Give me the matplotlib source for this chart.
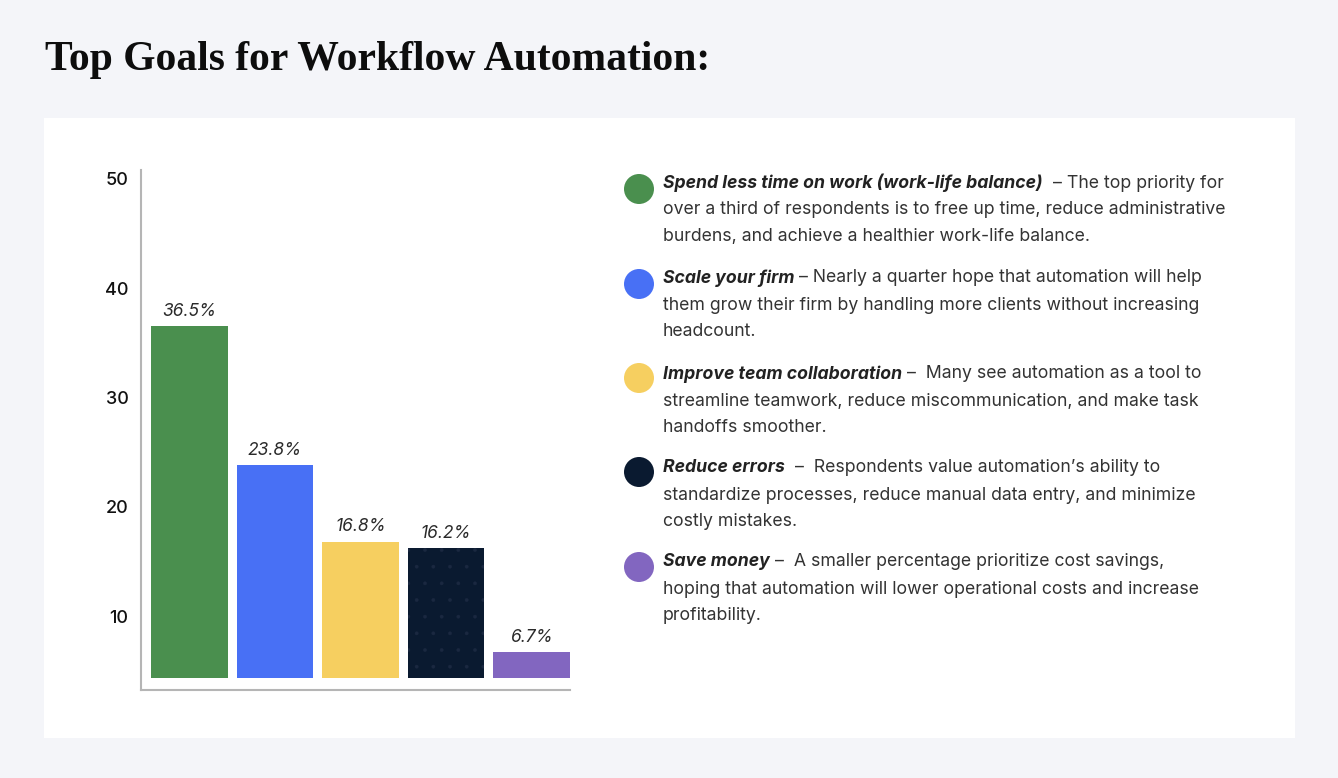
import matplotlib
matplotlib.use("Agg")
import matplotlib.pyplot as plt
from matplotlib.patches import Rectangle, Ellipse

# ---------------- data ----------------
categories = ["Spend less time on work (work-life balance)", "Scale your firm",
              "Improve team collaboration", "Reduce errors", "Save money"]
values = [36.5, 23.8, 16.8, 16.2, 6.7]
value_labels = ["36.5%", "23.8%", "16.8%", "16.2%", "6.7%"]
colors = ["#4a8f4e", "#4870f5", "#f6cf60", "#0a1a30", "#8266c0"]
yticks = [10, 20, 30, 40, 50]
headings = ["Spend less time on work (work-life balance)", "Scale your firm",
            "Improve team collaboration", "Reduce errors", "Save money"]
first_tails = ["  – The top priority for", " – Nearly a quarter hope that automation will help",
               " –  Many see automation as a tool to", "  –  Respondents value automation’s ability to",
               " –  A smaller percentage prioritize cost savings,"]
rest_lines = [
    ["over a third of respondents is to free up time, reduce administrative",
     "burdens, and achieve a healthier work-life balance."],
    ["them grow their firm by handling more clients without increasing",
     "headcount."],
    ["streamline teamwork, reduce miscommunication, and make task",
     "handoffs smoother."],
    ["standardize processes, reduce manual data entry, and minimize",
     "costly mistakes."],
    ["hoping that automation will lower operational costs and increase",
     "profitability."],
]
title = "Top Goals for Workflow Automation:"

W, H = 1338, 778
fig = plt.figure(figsize=(W / 100, H / 100), dpi=100)
fig.patch.set_facecolor("#f4f5f9")

def fx(px):
    return px / W

def fy(py):
    return 1 - py / H

# white panel
fig.patches.append(Rectangle((fx(44), fy(738)), fx(1295) - fx(44), fy(118) - fy(738),
                             transform=fig.transFigure, facecolor="white", edgecolor="none", zorder=-5))

renderer = fig.canvas.get_renderer()

# title
tt = fig.text(fx(45), fy(70), title, fontsize=30, fontweight="bold",
              family=["Liberation Serif"], color="#0d0d0d", va="baseline", ha="left")

# ---------------- bar chart ----------------
ax = fig.add_axes([fx(141), fy(690), fx(570) - fx(141), fy(170) - fy(690)])
ax.set_facecolor("none")
ax.set_zorder(2)
matplotlib.rcParams["hatch.linewidth"] = 0.25
base = 4.33
x = list(range(len(values)))
bars = ax.bar(x, [v - base for v in values], bottom=base, width=0.9, color=colors, edgecolor="none")
bars[3].set_hatch(".")
bars[3].set_edgecolor("#1a2840")
bars[3].set_linewidth(0)
body_font = "Inter"
for xi, v, lab in zip(x, values, value_labels):
    ax.text(xi, v + 0.6, lab, ha="center", va="bottom", fontsize=12.5, style="italic",
            family=body_font, color="#2a2a2a")
ax.set_xlim(-0.567, 4.45)
ax.set_ylim(3.23, 50.82)
ax.set_yticks(yticks)
ax.set_yticklabels([str(t) for t in yticks], fontsize=13, family=body_font,
                   fontweight="medium", color="#111111")
ax.tick_params(axis="y", length=0, pad=9)
ax.set_xticks([])
for s in ["top", "right"]:
    ax.spines[s].set_visible(False)
for s in ["left", "bottom"]:
    ax.spines[s].set_color("#b5b5b5")
    ax.spines[s].set_linewidth(1.5)

# ---------------- legend / descriptions ----------------
line_tops = [183, 278, 374, 468, 562]
circle_y = [189, 284, 378, 472, 567]
step = 27
fs = 12.3
# fit the body size so the widest line spans the same width as in the reference
probe = fig.text(0, 0, rest_lines[0][0], fontsize=fs, family=body_font)
pw = probe.get_window_extent(renderer=renderer).width
probe.remove()
fs = fs * 565.0 / pw
txt_color = "#333333"
for i in range(len(headings)):
    cy = circle_y[i]
    e = Ellipse((fx(639), fy(cy)), width=fx(30), height=30 / H, transform=fig.transFigure,
                facecolor=colors[i], edgecolor="none")
    fig.patches.append(e)
    y0 = fy(line_tops[i])
    t = fig.text(fx(663), y0, headings[i], fontsize=fs, fontweight="bold", style="italic",
                 family=body_font, color="#222222", va="center", ha="left")
    bb = t.get_window_extent(renderer=renderer)
    fig.text(bb.x1 / W, y0, first_tails[i], fontsize=fs, family=body_font,
             color=txt_color, va="center", ha="left")
    for j, line in enumerate(rest_lines[i]):
        fig.text(fx(663), fy(line_tops[i] + step * (j + 1)), line, fontsize=fs,
                 family=body_font, color=txt_color, va="center", ha="left")

fig.savefig("out.png", dpi=100, facecolor=fig.get_facecolor())
